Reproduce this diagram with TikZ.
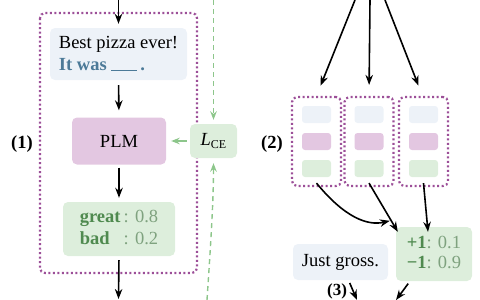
\documentclass[tikz,border=0pt]{standalone}
\usepackage{fontspec}
\setmainfont{Liberation Serif}
\usetikzlibrary{arrows.meta}
\definecolor{bluefill}{HTML}{EDF2F8}
\definecolor{pinkfill}{HTML}{E3C7E1}
\definecolor{greenfill}{HTML}{DDEEDC}
\definecolor{dotpurple}{HTML}{9C4F98}
\definecolor{arrgreen}{HTML}{8DC68B}
\definecolor{txtgreen}{HTML}{4F8A4F}
\definecolor{numgreen}{HTML}{7FA27F}
\definecolor{txtblue}{HTML}{4C7A98}
\begin{document}
\begin{tikzpicture}[x=1pt,y=-1pt,
  box/.style={rounded corners=5pt, inner sep=0pt, align=left, font=\fontsize{18.5}{22}\selectfont},
  bluebox/.style={box, fill=bluefill},
  pinkbox/.style={box, fill=pinkfill},
  greenbox/.style={box, fill=greenfill},
  cell/.style={rounded corners=3pt, minimum width=29pt, minimum height=17pt, inner sep=0pt},
  dotbox/.style={draw=dotpurple, line width=2.2pt, dash pattern=on 2pt off 2.5pt, rounded corners=5pt},
  arr/.style={draw=black, line width=1.6pt, -{Stealth[length=10pt,width=7.5pt]}},
  garr/.style={draw=arrgreen, line width=1.4pt, -{Stealth[length=8.5pt,width=6.5pt]}},
  gdash/.style={garr, dash pattern=on 5pt off 4pt},
  lab/.style={font=\fontsize{18.5}{22}\selectfont\bfseries, inner sep=0pt, anchor=base}
]
\useasboundingbox (0,0) rectangle (480,300);

% ---------- left part ----------
\draw[dotbox] (40,13) rectangle (197,273);

\node[bluebox, minimum width=137pt, minimum height=52pt] (txt) at (118.5,54)
  {Best pizza ever!\\\textcolor{txtblue}{\textbf{It was} \rule[-0.5pt]{26pt}{1.3pt}\,\textbf{.}}};
\node[pinkbox, minimum width=94pt, minimum height=47pt, align=center] (plm) at (119,141) {PLM};
\node[greenbox, minimum width=47pt, minimum height=34pt, align=center] (lce) at (213.5,141)
  {\textit{L}\raisebox{-3pt}{\fontsize{12}{12}\selectfont CE}};
\node[greenbox, minimum width=112pt, minimum height=54pt] (pred) at (119,229)
  {\begin{tabular}{@{}l@{\,}l@{}}\textcolor{txtgreen}{\textbf{great}} & \textcolor{numgreen}{: 0.8}\\
   \textcolor{txtgreen}{\textbf{bad}} & \textcolor{numgreen}{: 0.2}\end{tabular}};

\node[lab] (l1) at (22,148) {(1)};

\coordinate (intop) at (118.5,0);
\coordinate (outbot) at (118.5,299);
\draw[arr, shorten >=4pt] (intop) -- (txt.north);
\draw[arr, shorten <=5pt, shorten >=7pt] (txt.south) -- (plm.north);
\draw[arr, shorten <=3pt, shorten >=4pt] (plm.south) -- (pred.north);
\draw[arr, shorten <=4pt] (pred.south) -- (outbot);
\draw[garr, shorten <=3pt, shorten >=5pt] (lce.west) -- (plm.east);

\coordinate (gtop) at (213.5,0);
\coordinate (gbot) at (207,300);
\draw[gdash, shorten >=4pt] (gtop) -- (lce.north);
\draw[gdash, shorten >=5pt] (gbot) .. controls (211,240) and (213.5,200) .. (lce.south);

% ---------- right part ----------
\foreach \i/\x in {1/316.5, 2/369, 3/423.5} {
  \node[dotbox, minimum width=49pt, minimum height=89pt, inner sep=0pt] (col\i) at (\x,141.5) {};
  \node[cell, fill=bluefill] (b\i) at (\x,114.5) {};
  \node[cell, fill=pinkfill] (p\i) at (\x,141.5) {};
  \node[cell, fill=greenfill] (g\i) at (\x,168.5) {};
}
\node[lab] (l2) at (272,148) {(2)};

\coordinate (s1) at (355,0);
\coordinate (s2) at (370,0);
\coordinate (s3) at (385,0);
\draw[arr, shorten >=11pt] (s1) -- (col1.north);
\draw[arr, shorten >=11pt] (s2) -- (col2.north);
\draw[arr, shorten >=11pt] (s3) -- ([xshift=-1pt]col3.north);

\node[greenbox, minimum width=76pt, minimum height=54pt] (vote) at (434,254)
  {\begin{tabular}{@{}l@{}l@{}}\textcolor{txtgreen}{\textbf{+1}} & \textcolor{numgreen}{: 0.1}\\[-2pt]
   \textcolor{txtgreen}{\textbf{−1}} & \textcolor{numgreen}{: 0.9}\end{tabular}};
\node[bluebox, minimum width=95pt, minimum height=36pt, align=center] (test) at (340.5,262) {Just gross.};

\draw[arr] ([yshift=4pt]col1.south) .. controls (345,218) and (368,226) .. ([xshift=-6pt,yshift=6pt]vote.north west);
\draw[arr] ([yshift=4pt]col2.south) -- ([xshift=2pt,yshift=-5pt]vote.north west);
\draw[arr] ([yshift=4pt]col3.south) -- ([xshift=-6pt,yshift=-5pt]vote.north);

\node[lab, font=\fontsize{17}{20}\selectfont\bfseries] (l3) at (337,295) {(3)};
\coordinate (e1) at (357,300);
\coordinate (e2) at (396,300);
\draw[arr, shorten <=3pt] ([xshift=8pt]test.south) -- (e1);
\draw[arr, shorten <=3pt] ([xshift=-24pt]vote.south) -- (e2);
\end{tikzpicture}
\end{document}
